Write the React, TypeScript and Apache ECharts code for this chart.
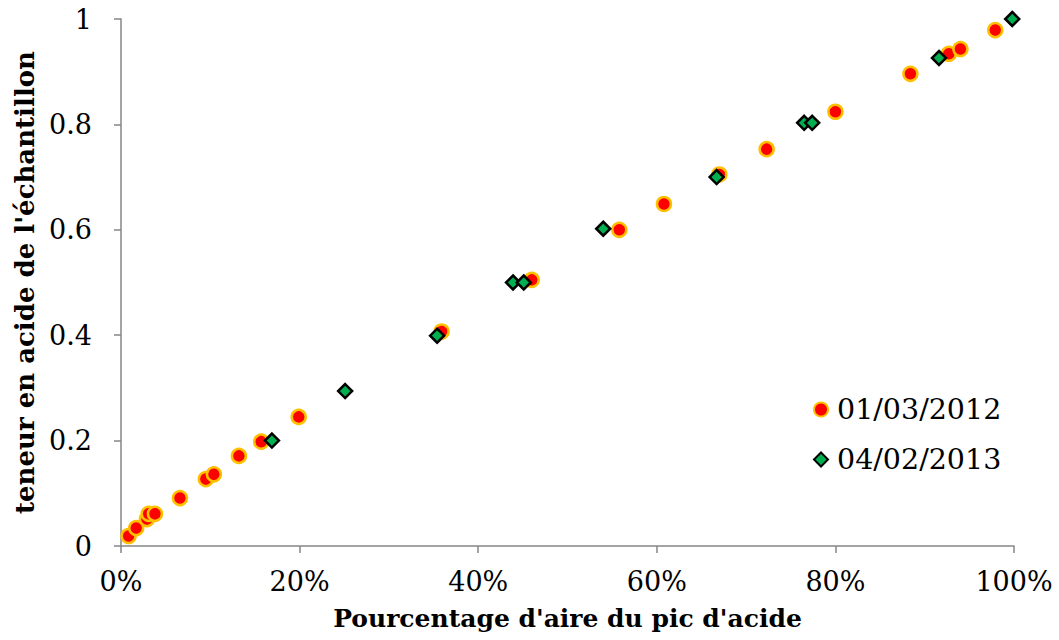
import React, { useEffect, useRef } from "react";
import * as echarts from "echarts";

const seriesNames = ["01/03/2012", "04/02/2013"];
const xTitle = "Pourcentage d'aire du pic d'acide";
const yTitle = "teneur en acide de l'échantillon";

// x in %, y in fraction
const x2012 = [0.85, 1.7, 2.9, 3.1, 3.8, 6.6, 9.5, 10.4, 13.2, 15.7, 19.9, 35.9, 46.0, 55.8, 60.8, 67.0, 72.3, 80.0, 88.4, 92.7, 94.0, 97.9];
const y2012 = [0.019, 0.034, 0.051, 0.061, 0.061, 0.091, 0.127, 0.136, 0.171, 0.198, 0.245, 0.407, 0.505, 0.6, 0.649, 0.705, 0.753, 0.824, 0.896, 0.934, 0.943, 0.979];

const x2013 = [16.9, 25.1, 35.4, 43.9, 45.1, 54.0, 66.7, 76.5, 77.4, 91.6, 99.8];
const y2013 = [0.2, 0.294, 0.399, 0.5, 0.5, 0.602, 0.7, 0.803, 0.803, 0.926, 1.0];

const FONT = "DejaVu Serif";

export default function App() {
  const ref = useRef<HTMLDivElement>(null);
  useEffect(() => {
    if (!ref.current) return;
    const chart = echarts.init(ref.current, null, { renderer: "svg" });
    const d1 = x2012.map((x, i) => [x, y2012[i]]);
    const d2 = x2013.map((x, i) => [x, y2013[i]]);
    chart.setOption({
      animation: false,
      backgroundColor: "#ffffff",
      grid: { left: 121, right: 45, top: 19, bottom: 94, containLabel: false },
      legend: {
        orient: "vertical",
        left: 808,
        top: 390,
        itemGap: 21,
        itemWidth: 14,
        itemHeight: 14,
        textStyle: { fontFamily: FONT, fontSize: 28.5, color: "#000", padding: [0, 0, 0, 4] },
        data: seriesNames,
      },
      xAxis: {
        type: "value",
        min: 0,
        max: 100,
        interval: 20,
        name: xTitle,
        nameLocation: "middle",
        nameGap: 60,
        nameTextStyle: { fontFamily: FONT, fontSize: 25, fontWeight: "bold", color: "#000" },
        axisLine: { show: true, lineStyle: { color: "#868686", width: 1.5 } },
        axisTick: { show: true, length: 7, lineStyle: { color: "#868686", width: 1.5 } },
        axisLabel: { fontFamily: FONT, fontSize: 27, color: "#000", margin: 22, formatter: "{value}%" },
        splitLine: { show: false },
      },
      yAxis: {
        type: "value",
        min: 0,
        max: 1,
        interval: 0.2,
        name: yTitle,
        nameLocation: "middle",
        nameGap: 80,
        nameTextStyle: { fontFamily: FONT, fontSize: 26, fontWeight: "bold", color: "#000" },
        axisLine: { show: true, lineStyle: { color: "#868686", width: 1.5 } },
        axisTick: { show: true, length: 7, lineStyle: { color: "#868686", width: 1.5 } },
        axisLabel: { fontFamily: FONT, fontSize: 27, color: "#000", margin: 29 },
        splitLine: { show: false },
      },
      series: [
        {
          name: seriesNames[0],
          type: "scatter",
          symbol: "circle",
          symbolSize: 14,
          itemStyle: { color: "#FF0000", borderColor: "#FFC000", borderWidth: 2.5, opacity: 1 },
          data: d1,
        },
        {
          name: seriesNames[1],
          type: "scatter",
          symbol: "diamond",
          symbolSize: 14,
          itemStyle: { color: "#00B050", borderColor: "#000000", borderWidth: 2.5, opacity: 1 },
          data: d2,
        },
      ],
    });
    return () => chart.dispose();
  }, []);
  return <div ref={ref} style={{ width: 1059, height: 640, position: "absolute", left: 0, top: 0 }} />;
}
